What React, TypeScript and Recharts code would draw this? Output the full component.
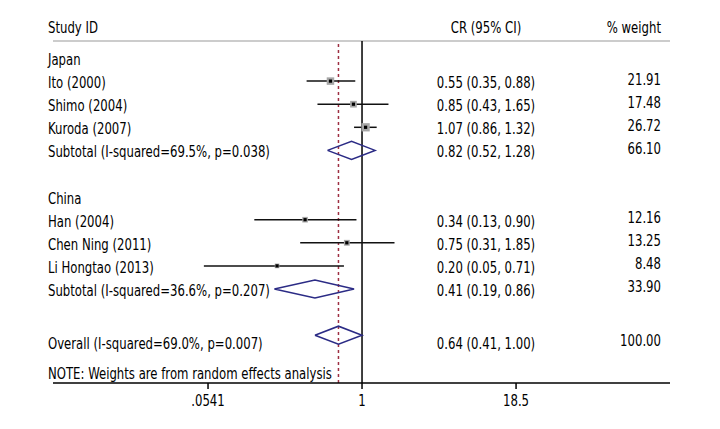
import React from 'react';
import { ComposedChart, Scatter, XAxis, YAxis, ReferenceLine } from 'recharts';

// ---- data ----
const groupLabels = ['Japan', 'China'];
const groupRows = [0, 6];

const studyLabels = ['Ito (2000)', 'Shimo (2004)', 'Kuroda (2007)', 'Han (2004)', 'Chen Ning (2011)', 'Li Hongtao (2013)'];
const studyRows = [1, 2, 3, 7, 8, 9];
const studyEst = [0.55, 0.85, 1.07, 0.34, 0.75, 0.2];
const studyLo = [0.35, 0.43, 0.86, 0.13, 0.31, 0.05];
const studyHi = [0.88, 1.65, 1.32, 0.9, 1.85, 0.71];
const studyWeight = ['21.91', '17.48', '26.72', '12.16', '13.25', '8.48'];

const subtotalLabels = ['Subtotal (I-squared=69.5%, p=0.038)', 'Subtotal (I-squared=36.6%, p=0.207)'];
const subtotalRows = [4, 10];
const subtotalEst = [0.82, 0.41];
const subtotalLo = [0.52, 0.19];
const subtotalHi = [1.28, 0.86];
const subtotalWeight = ['66.10', '33.90'];

const overallLabel = 'Overall (I-squared=69.0%, p=0.007)';
const overallRow = 12;
const overallTextRow = 12.3;
const overallEst = 0.64;
const overallLo = 0.41;
const overallHi = 1.0;
const overallWeight = '100.00';

const noteLabel = 'NOTE: Weights are from random effects analysis';
const noteRow = 13.6;

const xTicks = [0.0541, 1, 18.5];
const xTickLabels = ['.0541', '1', '18.5'];

// ---- layout / style ----
const W = 720;
const H = 429;
const X_DOMAIN = [0.00287, 341.6];
const Y_DOMAIN = [-0.736, 14.07];
const FONT = '"DejaVu Sans Condensed", "DejaVu Sans", sans-serif';
const FS = 15.5;
const SX = 0.84;
const DIAMOND_H = 0.39;
const DIAMOND = '#2b2b85';
const DASH = '#9e2f42';

const fmt = (v: number) => v.toFixed(2);
const ciText = (e: number, l: number, h: number) => `${fmt(e)} (${fmt(l)}, ${fmt(h)})`;

const leftLabels: Record<string, string> = {};
groupRows.forEach((r, i) => (leftLabels[String(r)] = groupLabels[i]));
studyRows.forEach((r, i) => (leftLabels[String(r)] = studyLabels[i]));
subtotalRows.forEach((r, i) => (leftLabels[String(r)] = subtotalLabels[i]));
leftLabels[String(overallTextRow)] = overallLabel;
leftLabels[String(noteRow)] = noteLabel;
const leftTicks = Object.keys(leftLabels).map(Number);

const rightCR: Record<string, string> = {};
const rightW: Record<string, string> = {};
studyRows.forEach((r, i) => {
  rightCR[String(r)] = ciText(studyEst[i], studyLo[i], studyHi[i]);
  rightW[String(r)] = studyWeight[i];
});
subtotalRows.forEach((r, i) => {
  rightCR[String(r)] = ciText(subtotalEst[i], subtotalLo[i], subtotalHi[i]);
  rightW[String(r)] = subtotalWeight[i];
});
rightCR[String(overallTextRow)] = ciText(overallEst, overallLo, overallHi);
rightW[String(overallTextRow)] = overallWeight;
const rightTicks = Object.keys(rightCR).map(Number);

const studyPoints = studyRows.map((r, i) => ({ x: studyEst[i], y: r, w: parseFloat(studyWeight[i]) }));

const T = ({ x, y, anchor = 'start', children }: any) => (
  <text
    x={x}
    y={y}
    dy="0.35em"
    transform={`translate(${x},0) scale(${SX},1) translate(${-x},0)`}
    fontFamily={FONT}
    fontSize={FS}
    fill="#000"
    textAnchor={anchor}
  >
    {children}
  </text>
);

const LeftTick = (props: any) => {
  const { y, payload } = props;
  return <T x={48} y={y + 1.5}>{leftLabels[String(payload.value)]}</T>;
};

const RightTick = (props: any) => {
  const { y, payload } = props;
  const k = String(payload.value);
  return (
    <g>
      <T x={486} y={y + 1.5} anchor="middle">{rightCR[k]}</T>
      <T x={661} y={y - 2} anchor="end">{rightW[k]}</T>
    </g>
  );
};

const XTick = (props: any) => {
  const { x, y, payload } = props;
  return <T x={x} y={y + 9} anchor="middle">{xTickLabels[xTicks.indexOf(payload.value)]}</T>;
};

const StudyMarker = (props: any) => {
  const { cx, cy, payload } = props;
  const s = 1.6 * Math.sqrt(payload.w);
  return (
    <g>
      <rect x={cx - s / 2} y={cy - s / 2} width={s} height={s} fill="#a6a6a6" />
      <rect x={cx - 1.6} y={cy - 1.6} width={3.2} height={3.2} fill="#000" />
    </g>
  );
};

const NoShape = () => <g />;

const diamondData = (e: number, l: number, h: number, r: number) => [
  { x: l, y: r },
  { x: e, y: r - DIAMOND_H },
  { x: h, y: r },
  { x: e, y: r + DIAMOND_H },
  { x: l, y: r },
];

export default function App() {
  return (
    <div style={{ position: 'absolute', left: 0, top: 0, width: W, height: H, background: '#fff' }}>
      <ComposedChart width={W} height={H} margin={{ top: 41, right: 0, bottom: 16, left: 0 }}>
        <XAxis
          xAxisId="x"
          type="number"
          dataKey="x"
          scale="log"
          domain={X_DOMAIN}
          allowDataOverflow
          ticks={xTicks}
          interval={0}
          height={30}
          tickSize={6}
          tickMargin={3}
          axisLine={{ stroke: '#000', strokeWidth: 1.5 }}
          tickLine={{ stroke: '#000', strokeWidth: 1.5 }}
          tick={<XTick />}
        />
        <YAxis
          yAxisId="left"
          type="number"
          dataKey="y"
          orientation="left"
          width={53}
          reversed
          domain={Y_DOMAIN}
          allowDataOverflow
          ticks={leftTicks}
          interval={0}
          axisLine={false}
          tickLine={false}
          tick={<LeftTick />}
        />
        <YAxis
          yAxisId="right"
          type="number"
          orientation="right"
          width={50}
          reversed
          domain={Y_DOMAIN}
          allowDataOverflow
          ticks={rightTicks}
          interval={0}
          axisLine={false}
          tickLine={false}
          tick={<RightTick />}
        />
        <ReferenceLine xAxisId="x" yAxisId="left" y={Y_DOMAIN[0]} stroke="#9a9a9a" strokeWidth={1.2} />
        <ReferenceLine xAxisId="x" yAxisId="left" x={1} stroke="#000" strokeWidth={1.5} />
        <ReferenceLine xAxisId="x" yAxisId="left" x={overallEst} stroke={DASH} strokeWidth={1.5} strokeDasharray="3 3" />
        {studyRows.map((r, i) => (
          <Scatter
            key={`ci-${i}`}
            xAxisId="x"
            yAxisId="left"
            data={[{ x: studyLo[i], y: r }, { x: studyHi[i], y: r }]}
            line={{ stroke: '#111', strokeWidth: 1.5 }}
            shape={NoShape}
            isAnimationActive={false}
          />
        ))}
        <Scatter
          xAxisId="x"
          yAxisId="left"
          data={studyPoints}
          shape={StudyMarker}
          isAnimationActive={false}
        />
        {subtotalRows.map((r, i) => (
          <Scatter
            key={`sub-${i}`}
            xAxisId="x"
            yAxisId="left"
            data={diamondData(subtotalEst[i], subtotalLo[i], subtotalHi[i], r)}
            line={{ stroke: DIAMOND, strokeWidth: 1.5, fill: 'none' }}
            shape={NoShape}
            isAnimationActive={false}
          />
        ))}
        <Scatter
          xAxisId="x"
          yAxisId="left"
          data={diamondData(overallEst, overallLo, overallHi, overallRow)}
          line={{ stroke: DIAMOND, strokeWidth: 1.5, fill: 'none' }}
          shape={NoShape}
          isAnimationActive={false}
        />
        <T x={48} y={28}>Study ID</T>
        <T x={486} y={28} anchor="middle">CR (95% CI)</T>
        <T x={661} y={28} anchor="end">% weight</T>
      </ComposedChart>
    </div>
  );
}
